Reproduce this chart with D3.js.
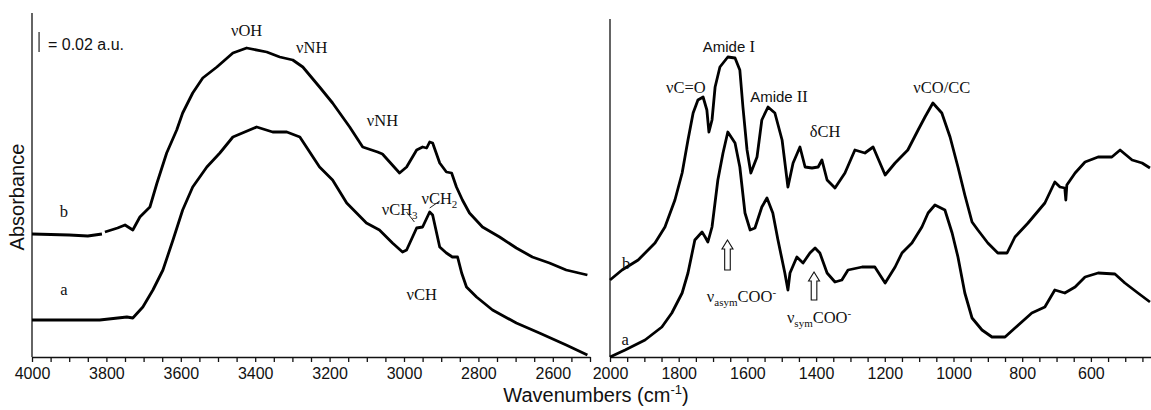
<!DOCTYPE html>
<html>
<head>
<meta charset="utf-8">
<script src="https://cdn.jsdelivr.net/npm/d3@7"></script>
<style>
  body { margin: 0; background: #fff; }
  svg { display: block; }
  .axis path, .axis line { stroke: #111; stroke-width: 1.3; }
  .axis text { font-family: "Liberation Sans", Arial, sans-serif; font-size: 16px; fill: #111; }
  .serif { font-family: "Liberation Serif", "Times New Roman", serif; font-size: 16.5px; fill: #111; }
  .sans { font-family: "Liberation Sans", Arial, sans-serif; fill: #111; }
</style>
</head>
<body>
<div id="chart"></div>
<script>
// wavenumber (cm-1), absorbance (a.u.)
const highB = [
  [4000, 0.123], [3900, 0.122], [3850, 0.121], [3812, 0.123], [3808, null],
  [3804, 0.125], [3770, 0.129], [3750, 0.132], [3729, 0.127], [3710, 0.140],
  [3683, 0.150], [3664, 0.174], [3638, 0.204], [3611, 0.227], [3595, 0.244],
  [3568, 0.264], [3541, 0.279], [3503, 0.290], [3460, 0.304], [3423, 0.309],
  [3369, 0.305], [3334, 0.300], [3299, 0.297], [3272, 0.290], [3227, 0.270],
  [3192, 0.254], [3146, 0.230], [3111, 0.210], [3071, 0.205], [3058, 0.203],
  [3012, 0.184], [2993, 0.190], [2966, 0.207], [2950, 0.210], [2939, 0.209],
  [2931, 0.215], [2923, 0.214], [2904, 0.194], [2886, 0.185], [2872, 0.184],
  [2859, 0.170], [2843, 0.157], [2824, 0.144], [2789, 0.130], [2743, 0.120],
  [2698, 0.109], [2655, 0.100], [2609, 0.094], [2564, 0.087], [2507, 0.082]
];
const highA = [
  [4000, 0.037], [3900, 0.037], [3818, 0.037], [3745, 0.040], [3729, 0.039],
  [3702, 0.050], [3675, 0.067], [3648, 0.087], [3621, 0.117], [3595, 0.147],
  [3568, 0.170], [3530, 0.190], [3495, 0.204], [3460, 0.220], [3396, 0.230],
  [3353, 0.225], [3315, 0.225], [3280, 0.220], [3227, 0.190], [3192, 0.177],
  [3154, 0.154], [3101, 0.134], [3066, 0.127], [3031, 0.114], [3004, 0.105],
  [2993, 0.107], [2966, 0.129], [2950, 0.130], [2931, 0.145], [2923, 0.142],
  [2904, 0.110], [2886, 0.104], [2870, 0.100], [2856, 0.100], [2845, 0.084],
  [2832, 0.070], [2805, 0.060], [2762, 0.047], [2698, 0.034], [2636, 0.024],
  [2564, 0.012], [2507, 0.002]
];
const lowB = [
  [2000, 0.077], [1965, 0.087], [1918, 0.097], [1869, 0.114], [1840, 0.130],
  [1811, 0.157], [1790, 0.184], [1773, 0.217], [1758, 0.244], [1744, 0.257],
  [1729, 0.260], [1718, 0.247], [1712, 0.225], [1703, 0.237], [1694, 0.270],
  [1680, 0.290], [1657, 0.300], [1636, 0.299], [1622, 0.287], [1613, 0.250],
  [1601, 0.207], [1590, 0.184], [1572, 0.200], [1558, 0.237], [1540, 0.250],
  [1520, 0.244], [1499, 0.217], [1482, 0.170], [1467, 0.194], [1447, 0.210],
  [1432, 0.190], [1412, 0.189], [1394, 0.190], [1383, 0.197], [1368, 0.177],
  [1345, 0.169], [1316, 0.184], [1287, 0.207], [1258, 0.204], [1234, 0.210],
  [1199, 0.182], [1170, 0.194], [1133, 0.207], [1103, 0.227], [1083, 0.240],
  [1060, 0.254], [1034, 0.244], [1010, 0.220], [987, 0.190], [967, 0.162],
  [946, 0.135], [929, 0.127], [900, 0.114], [871, 0.104], [844, 0.104],
  [821, 0.120], [783, 0.134], [734, 0.154], [705, 0.175], [690, 0.170],
  [676, 0.169], [673, 0.157], [670, 0.172], [646, 0.184], [617, 0.195],
  [579, 0.200], [539, 0.200], [515, 0.207], [480, 0.197], [451, 0.194],
  [428, 0.189]
];
const lowA = [
  [2000, 0.000], [1956, 0.007], [1898, 0.017], [1849, 0.030], [1820, 0.044],
  [1790, 0.064], [1773, 0.084], [1753, 0.117], [1732, 0.125], [1723, 0.120],
  [1715, 0.115], [1703, 0.130], [1686, 0.177], [1671, 0.204], [1657, 0.225],
  [1636, 0.214], [1622, 0.190], [1607, 0.144], [1592, 0.127], [1578, 0.129],
  [1558, 0.150], [1543, 0.159], [1526, 0.144], [1511, 0.117], [1491, 0.084],
  [1482, 0.067], [1476, 0.084], [1456, 0.100], [1438, 0.094], [1418, 0.104],
  [1403, 0.109], [1389, 0.104], [1368, 0.084], [1345, 0.075], [1325, 0.077],
  [1307, 0.087], [1266, 0.090], [1229, 0.090], [1199, 0.074], [1170, 0.090],
  [1150, 0.104], [1121, 0.114], [1092, 0.130], [1074, 0.144], [1054, 0.152],
  [1025, 0.147], [1004, 0.124], [987, 0.100], [967, 0.064], [946, 0.039],
  [917, 0.027], [888, 0.020], [850, 0.020], [821, 0.029], [772, 0.044],
  [734, 0.050], [705, 0.067], [676, 0.064], [646, 0.070], [617, 0.080],
  [579, 0.084], [530, 0.083], [501, 0.074], [463, 0.064], [428, 0.055]
];

const leftDomain = [4000, 2500];
const rightDomain = [2000, 425];
const tickStep = 50;
const labelStep = 200;
const scaleBar = 0.02;

const width = 1151, height = 410;
const svg = d3.select("#chart").append("svg")
  .attr("width", width).attr("height", height);

const baseY = 357;
const yScale = d3.scaleLinear().domain([0, 0.344]).range([baseY, 13]);
const yScaleR = d3.scaleLinear().domain([0, 0.338]).range([baseY, 19]);

const xL = d3.scaleLinear().domain(leftDomain).range([32, 590]);
const xR = d3.scaleLinear().domain(rightDomain).range([610, 1151]);

function ticksFor(dom) {
  return d3.range(dom[0], dom[1] - 1, -tickStep);
}

function drawPanel(x, y, dom) {
  const g = svg.append("g");
  const axis = d3.axisBottom(x)
    .tickValues(ticksFor(dom))
    .tickSize(5)
    .tickPadding(6)
    .tickSizeOuter(0)
    .tickFormat(d => d % labelStep === 0 ? d : "");
  g.append("g").attr("class", "axis")
    .attr("transform", `translate(0,${baseY})`)
    .call(axis);
  g.append("line")
    .attr("x1", x(dom[0])).attr("x2", x(dom[0]))
    .attr("y1", y.range()[1]).attr("y2", baseY)
    .attr("stroke", "#111").attr("stroke-width", 1.3);
  return g;
}

const gL = drawPanel(xL, yScale, leftDomain);
const gR = drawPanel(xR, yScaleR, rightDomain);

function drawCurve(g, x, y, data) {
  const line = d3.line()
    .defined(d => d[1] !== null)
    .x(d => x(d[0])).y(d => y(d[1]));
  g.append("path").datum(data)
    .attr("d", line)
    .attr("fill", "none")
    .attr("stroke", "#000")
    .attr("stroke-width", 2.8)
    .attr("stroke-linejoin", "round");
}
drawCurve(gL, xL, yScale, highB);
drawCurve(gL, xL, yScale, highA);
drawCurve(gR, xR, yScaleR, lowB);
drawCurve(gR, xR, yScaleR, lowA);

// scale bar
svg.append("line")
  .attr("x1", xL(3981)).attr("x2", xL(3981))
  .attr("y1", yScale(0.305)).attr("y2", yScale(0.305 + scaleBar))
  .attr("stroke", "#333").attr("stroke-width", 1.3);
svg.append("text").attr("class", "sans")
  .attr("x", xL(3957)).attr("y", yScale(0.307))
  .style("font-size", "16px")
  .text("= 0.02 a.u.");

// axis titles
svg.append("text").attr("class", "sans")
  .attr("transform", `translate(24,197) rotate(-90)`)
  .attr("text-anchor", "middle")
  .style("font-size", "20px")
  .text("Absorbance");
const xt = svg.append("text").attr("class", "sans")
  .attr("x", 596).attr("y", 402)
  .attr("text-anchor", "middle")
  .style("font-size", "20px");
xt.append("tspan").text("Wavenumbers (cm");
xt.append("tspan").attr("dy", -8).style("font-size", "13px").text("-1");
xt.append("tspan").attr("dy", 8).text(")");

// annotations
function serifLabel(x, y, wn, ab, parts, anchor) {
  const t = svg.append("text").attr("class", "serif")
    .attr("x", x(wn)).attr("y", y(ab))
    .attr("text-anchor", anchor || "middle");
  let shift = 0;
  parts.forEach(p => {
    const ts = t.append("tspan").text(p.t);
    const want = p.sub ? 4 : p.sup ? -6 : 0;
    if (want !== shift) { ts.attr("dy", want - shift); shift = want; }
    if (p.sub || p.sup) ts.style("font-size", "11px");
    if (p.sans) ts.style("font-family", "Liberation Sans, Arial, sans-serif").style("font-size", "15px");
  });
  return t;
}

serifLabel(xL, yScale, 3423, 0.321, [{t: "νOH"}]);
serifLabel(xL, yScale, 3248, 0.304, [{t: "νNH"}]);
serifLabel(xL, yScale, 3058, 0.231, [{t: "νNH"}]);
serifLabel(xL, yScale, 3060, 0.142, [{t: "νCH"}, {t: "3", sub: true}], "start");
serifLabel(xL, yScale, 2953, 0.153, [{t: "νCH"}, {t: "2", sub: true}], "start");
serifLabel(xL, yScale, 2993, 0.057, [{t: "νCH"}], "start");
serifLabel(xL, yScale, 3914, 0.140, [{t: "b"}]);
serifLabel(xL, yScale, 3914, 0.062, [{t: "a"}]);

// leader lines for CH3 / CH2
[[2993, 0.145, 2972, 0.135], [2931, 0.149, 2904, 0.156]].forEach(l => {
  svg.append("line")
    .attr("x1", xL(l[0])).attr("y1", yScale(l[1]))
    .attr("x2", xL(l[2])).attr("y2", yScale(l[3]))
    .attr("stroke", "#222").attr("stroke-width", 1);
});

serifLabel(xR, yScaleR, 1779, 0.264, [{t: "νC=O"}]);
serifLabel(xR, yScaleR, 1654, 0.305, [{t: "Amide ", sans: true}, {t: "I"}]);
serifLabel(xR, yScaleR, 1592, 0.255, [{t: "Amide ", sans: true}, {t: "II"}], "start");
serifLabel(xR, yScaleR, 1374, 0.220, [{t: "δCH"}]);
serifLabel(xR, yScaleR, 1034, 0.264, [{t: "νCO/CC"}]);
serifLabel(xR, yScaleR, 1718, 0.055, [{t: "ν"}, {t: "asym", sub: true}, {t: "COO"}, {t: "-", sup: true}], "start");
serifLabel(xR, yScaleR, 1485, 0.034, [{t: "ν"}, {t: "sym", sub: true}, {t: "COO"}, {t: "-", sup: true}], "start");
serifLabel(xR, yScaleR, 1953, 0.088, [{t: "b"}]);
serifLabel(xR, yScaleR, 1956, 0.012, [{t: "a"}]);

// hollow up arrows
function arrow(wn, top, bottom) {
  const cx = xR(wn), y0 = yScaleR(top), y1 = yScaleR(bottom);
  const hw = 5.5, sw = 2.8, hh = 9;
  const pts = [[cx, y0], [cx + hw, y0 + hh], [cx + sw, y0 + hh], [cx + sw, y1],
               [cx - sw, y1], [cx - sw, y0 + hh], [cx - hw, y0 + hh]];
  svg.append("path")
    .attr("d", "M" + pts.map(p => p.join(",")).join("L") + "Z")
    .attr("fill", "#fff").attr("stroke", "#111").attr("stroke-width", 1.1);
}
arrow(1658, 0.117, 0.087);
arrow(1406, 0.085, 0.057);
</script>
</body>
</html>
